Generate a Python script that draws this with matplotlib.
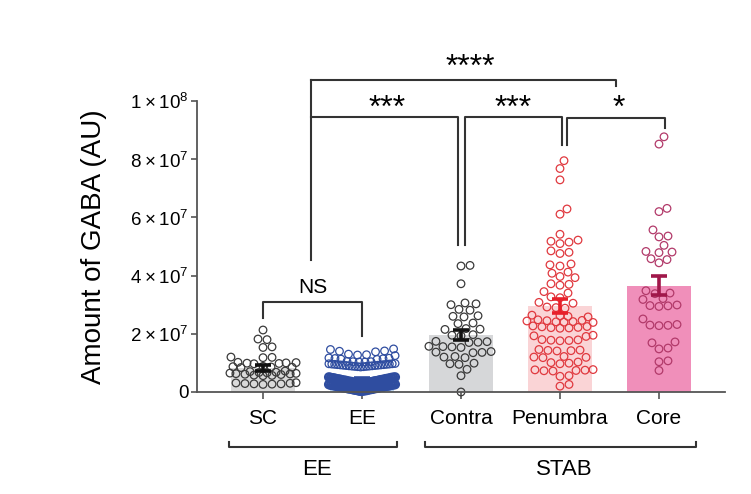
import numpy as np
import matplotlib
matplotlib.use("Agg")
import matplotlib.pyplot as plt

plt.rcParams['font.family'] = ['Liberation Sans', 'DejaVu Sans']
plt.rcParams['mathtext.fontset'] = 'custom'
plt.rcParams['mathtext.rm'] = 'Liberation Sans'

# values in units of 1e7
groups = ["SC", "EE", "Contra", "Penumbra", "Core"]
means = [0.82, 0.45, 1.95, 2.95, 3.65]
sems = [0.10, 0.03, 0.18, 0.23, 0.33]

sc_vals = [2.13, 1.82, 1.80, 1.55, 1.53, 1.20, 1.19, 1.18, 1.02, 1.01, 1.00, 0.99,
           0.98, 0.97, 0.88, 0.87, 0.86, 0.85, 0.84, 0.72, 0.70, 0.68, 0.67, 0.66,
           0.65, 0.64, 0.63, 0.62, 0.61, 0.60, 0.58, 0.57, 0.56, 0.32, 0.31, 0.30,
           0.29, 0.28, 0.28, 0.27, 0.26]
ee_vals = [1.48, 1.46, 1.41, 1.40, 1.38, 1.30, 1.28, 1.27, 1.25, 1.17, 1.16, 1.15,
           1.14, 1.13, 1.12, 1.05, 1.04, 1.03, 1.03, 1.04,
           0.86, 0.87, 0.87, 0.88, 0.88, 0.89, 0.89, 0.90, 0.90, 0.91, 0.91, 0.92,
           0.92, 0.93, 0.93, 0.94, 0.94, 0.95, 0.95, 0.96, 0.96, 0.97, 0.97, 0.98,
           0.28, 0.29, 0.29, 0.30, 0.31, 0.31, 0.32, 0.33, 0.33, 0.34, 0.35, 0.35,
           0.36, 0.37, 0.37, 0.38, 0.39, 0.39, 0.40, 0.41, 0.41, 0.42, 0.43, 0.43,
           0.44, 0.45, 0.45, 0.46, 0.47, 0.47, 0.48, 0.49, 0.49, 0.50, 0.51, 0.51,
           0.03, 0.04, 0.04, 0.05, 0.06, 0.06, 0.07, 0.08, 0.08, 0.09, 0.10, 0.10,
           0.11, 0.12, 0.12, 0.13, 0.14, 0.14, 0.15, 0.16, 0.16, 0.17, 0.18, 0.18,
           0.19, 0.20, 0.20, 0.21, 0.22, 0.22, 0.23, 0.24, 0.24, 0.25, 0.26, 0.26]
contra_vals = [4.35, 4.33, 3.72, 3.06, 3.03, 3.00, 2.84, 2.81, 2.62, 2.60, 2.58,
               2.37, 2.35, 2.18, 2.16, 2.15, 1.97, 1.95, 1.93, 1.74, 1.73, 1.71,
               1.70, 1.57, 1.56, 1.55, 1.53, 1.39, 1.37, 1.36, 1.35, 1.22, 1.20,
               1.18, 0.99, 0.97, 0.95, 0.78, 0.56, 0.0]
pen_vals = [7.95, 7.68, 7.29, 6.29, 6.11, 5.42, 5.22, 5.18, 5.15, 5.10, 4.85, 4.80,
            4.76, 4.40, 4.37, 4.33, 4.12, 4.08, 3.97, 3.93, 3.72, 3.70, 3.67, 3.45,
            3.40, 3.27, 3.24, 3.08, 3.05, 2.92, 2.90, 2.88, 2.64, 2.62, 2.60, 2.58,
            2.48, 2.46, 2.45, 2.44, 2.42, 2.41, 2.40, 2.39, 2.27, 2.25, 2.24, 2.22,
            2.21, 2.20, 2.19, 1.95, 1.93, 1.91, 1.80, 1.79, 1.78, 1.77, 1.76, 1.46,
            1.44, 1.43, 1.42, 1.41, 1.22, 1.20, 1.19, 1.18, 1.03, 1.01, 0.99, 0.97,
            0.77, 0.76, 0.75, 0.74, 0.73, 0.72, 0.56, 0.54, 0.26, 0.20]
core_vals = [8.77, 8.52, 6.31, 6.20, 5.57, 5.36, 5.33, 5.04, 4.83, 4.81, 4.79, 4.58,
             4.55, 4.44, 3.48, 3.40, 3.38, 3.21, 3.18, 2.99, 2.97, 2.96, 2.94, 2.51,
             2.32, 2.30, 2.29, 2.28, 1.72, 1.69, 1.51, 1.48, 1.07, 1.04, 0.74]
all_vals = [sc_vals, ee_vals, contra_vals, pen_vals, core_vals]

bar_colors = ["#d9d9d9", "#bcd4ef", "#d6d7d9", "#fad4d6", "#f08fba"]
dot_colors = ["#3a3a3a", "#2f4da0", "#3a3a3a", "#e0393f", "#b23a6a"]
err_colors = ["#111111", "#2f4da0", "#111111", "#e8202a", "#a0174a"]

XPX = 98.8   # pixels per category unit
YPX = 29.1   # pixels per 1e7


def swarm_greedy(vals, center, diam, max_half):
    # place points one by one (by value), nearest to the center without overlap
    vals = np.asarray(vals, dtype=float)
    xs = np.zeros(len(vals))
    placed = []
    cands = [0.0]
    for k in range(1, int(max_half) + 1):
        cands += [k, -k]
    for i in np.argsort(vals, kind='stable'):
        y = vals[i] * YPX
        near = [(px, py) for px, py in placed if abs(py - y) < diam]
        best, best_d = 0.0, -1
        for c in cands:
            dmin = min([np.hypot(c - px, y - py) for px, py in near], default=1e9)
            if dmin >= diam:
                best = c
                break
            if dmin > best_d:
                best, best_d = c, dmin
        placed.append((best, y))
        xs[i] = center + best / XPX
    return xs


def swarm_rows(vals, center, bin_h, y0, max_half):
    # dense rows: values sorted from the middle outwards, squeezed to max width
    vals = np.asarray(vals, dtype=float)
    xs = np.zeros(len(vals))
    lw = np.zeros(len(vals))
    bins = np.floor((vals - y0) / bin_h).astype(int)
    for b in np.unique(bins):
        idx = np.where(bins == b)[0]
        idx = idx[np.argsort(vals[idx], kind='stable')]
        n = len(idx)
        s = 9.0 if n < 2 else min(9.0, 2 * max_half / (n - 1))
        pos = np.arange(n) - (n - 1) / 2
        order = np.argsort(np.abs(pos), kind='stable')
        for j in range(n):
            xs[idx[j]] = center + pos[order[j]] * s / XPX
            lw[idx[j]] = 1.7 if n > 30 else 0.9
    return xs, lw


fig = plt.figure(figsize=(7.51, 4.94), dpi=100)
ax = fig.add_axes([0.2623, 0.2065, 0.7031, 0.589])

x = np.arange(len(groups))
ax.bar(x, means, width=0.65, color=bar_colors, zorder=1)

for i, vals in enumerate(all_vals):
    if groups[i] == "EE":
        xs, lws = swarm_rows(vals, x[i], 0.25, 0.02, 33)
    else:
        xs = swarm_greedy(vals, x[i], 8.6, 33)
        lws = 0.9
    ax.scatter(xs, vals, s=30, facecolors='none', edgecolors=dot_colors[i],
               linewidths=lws, zorder=2, clip_on=False)
    ax.errorbar(x[i], means[i], yerr=sems[i], color=err_colors[i], elinewidth=2.6,
                capsize=6, capthick=2.6, zorder=3)

ax.set_xlim(-0.667, 4.667)
ax.set_ylim(0, 10)
ax.set_yticks([0, 2, 4, 6, 8, 10])
ax.set_yticklabels(["0", r"$2\times10^{7}$", r"$4\times10^{7}$",
                    r"$6\times10^{7}$", r"$8\times10^{7}$", r"$1\times10^{8}$"],
                   fontsize=13.5)
ax.set_xticks(x)
ax.set_xticklabels(groups, fontsize=15)
ax.tick_params(axis='x', length=5, width=1.2, color='#555555', pad=7)
ax.tick_params(axis='y', length=4, width=1.2, color='#555555', pad=2)
for side in ['top', 'right']:
    ax.spines[side].set_visible(False)
for side in ['left', 'bottom']:
    ax.spines[side].set_color('#555555')
    ax.spines[side].set_linewidth(1.3)
ax.set_ylabel("Amount of GABA (AU)", fontsize=20)
ax.yaxis.set_label_coords(-0.17, 0.5)

lc = '#333333'
kw = dict(color=lc, lw=1.5, clip_on=False, zorder=4)
star = 23
# NS bracket
ax.plot([0, 0, 1, 1], [2.54, 3.1, 3.1, 1.92], **kw)
ax.text(0.5, 3.25, "NS", ha='center', va='bottom', fontsize=15)
# vertical from NS up
ax.plot([0.483, 0.483], [4.53, 10.72], **kw)
# *** EE vs Contra
ax.plot([0.483, 1.965, 1.965], [9.46, 9.46, 5.05], **kw)
ax.text(1.255, 9.45, "***", ha='center', va='baseline', fontsize=star)
# *** Contra vs Penumbra
ax.plot([2.045, 2.045, 3.02, 3.02], [5.05, 9.46, 9.46, 8.5], **kw)
ax.text(2.53, 9.45, "***", ha='center', va='baseline', fontsize=star)
# * Penumbra vs Core
ax.plot([3.075, 3.075, 4.06, 4.06], [8.5, 9.43, 9.43, 9.07], **kw)
ax.text(3.59, 9.45, "*", ha='center', va='baseline', fontsize=star)
# ****
ax.plot([0.483, 3.57, 3.57], [10.72, 10.72, 10.5], **kw)
ax.text(2.09, 10.85, "****", ha='center', va='baseline', fontsize=star)

# group brackets below
ax.plot([-0.344, -0.344, 1.356, 1.356], [-1.72, -1.89, -1.89, -1.72], **kw)
ax.plot([1.64, 1.64, 4.37, 4.37], [-1.72, -1.89, -1.89, -1.72], **kw)
ax.text(0.55, -2.65, "EE", ha='center', va='center', fontsize=16)
ax.text(3.04, -2.65, "STAB", ha='center', va='center', fontsize=16)

fig.savefig("out.png", dpi=100)
